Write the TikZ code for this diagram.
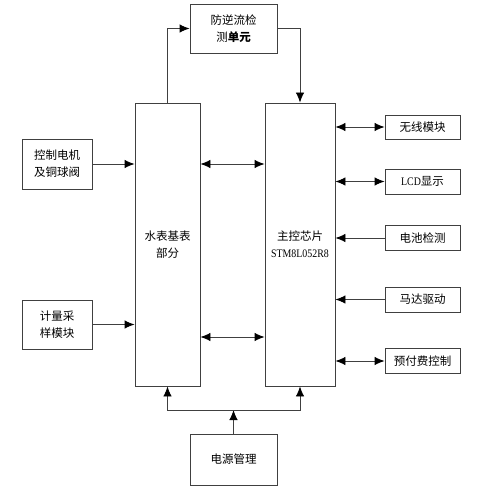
\documentclass[tikz,border=0pt]{standalone}
\usepackage{fontspec}
\setmainfont{Liberation Serif}
\newfontfamily\cjk{Noto Sans CJK SC}
\usetikzlibrary{arrows.meta, positioning}

\begin{document}
\begin{tikzpicture}[
  x=1pt, y=-1pt,
  every node/.style={draw=black!75, line width=0.9pt, align=center, inner sep=0pt, font=\fontsize{11.5}{17}\selectfont\cjk},
  tip/.tip={Latex[length=10pt,width=8.5pt,black]},
  arr/.style={draw=black!75, line width=0.9pt, -tip},
  barr/.style={draw=black!75, line width=0.9pt, tip-tip}
]
\useasboundingbox (0,0) rectangle (485,489);
% main blocks
\node[minimum width=87pt, minimum height=49pt] (check) at (233.5,28.5) {防逆流检\\测\textbf{单元}};
\node[minimum width=65pt, minimum height=283pt] (meter) at (167.5,244.5) {水表基表\\部分};
\node[minimum width=70pt, minimum height=283pt] (mcu) at (300,244.5) {主控芯片\\{\rmfamily\fontsize{11.5}{17}\selectfont\scalebox{0.86}[1]{STM8L052R8}}};
\node[minimum width=70pt, minimum height=50pt] (motor) at (57,164) {控制电机\\及铜球阀};
\node[minimum width=70pt, minimum height=49pt] (sample) at (57,324.5) {计量采\\样模块};
\node[minimum width=87pt, minimum height=51pt] (power) at (233.5,459.5) {电源管理};
% peripherals
\node[minimum width=75pt, minimum height=24pt] (wireless) at (422.5,127) {无线模块};
\node[minimum width=75pt, minimum height=25pt] (lcd) at (422.5,181.5) {{\rmfamily\fontsize{11.5}{17}\selectfont\scalebox{0.86}[1]{LCD}}显示};
\node[minimum width=75pt, minimum height=25pt] (battery) at (422.5,238) {电池检测};
\node[minimum width=75pt, minimum height=25pt] (drive) at (422.5,299.5) {马达驱动};
\node[minimum width=75pt, minimum height=25pt] (prepay) at (422.5,361) {预付费控制};
\coordinate (low) at (0,337);
\coordinate (bus) at (233.5,410);

\draw[arr] (meter.north) |- (check.west);
\draw[arr] (check.east) -| (mcu.north);
\draw[arr] (motor.east) -- (motor.east -| meter.west);
\draw[arr] (sample.east) -- (sample.east -| meter.west);
\draw[barr] (meter.east |- motor.east) -- (mcu.west |- motor.east);
\draw[barr] (meter.east |- low) -- (mcu.west |- low);
\draw[barr] (mcu.east |- wireless.west) -- (wireless.west);
\draw[barr] (mcu.east |- lcd.west) -- (lcd.west);
\draw[arr] (battery.west) -- (battery.west -| mcu.east);
\draw[arr] (drive.west) -- (drive.west -| mcu.east);
\draw[barr] (mcu.east |- prepay.west) -- (prepay.west);
\draw[arr] (power.north) -- (bus);
\draw[arr] (bus) -| (meter.south);
\draw[arr] (bus) -| (mcu.south);
\end{tikzpicture}
\end{document}
